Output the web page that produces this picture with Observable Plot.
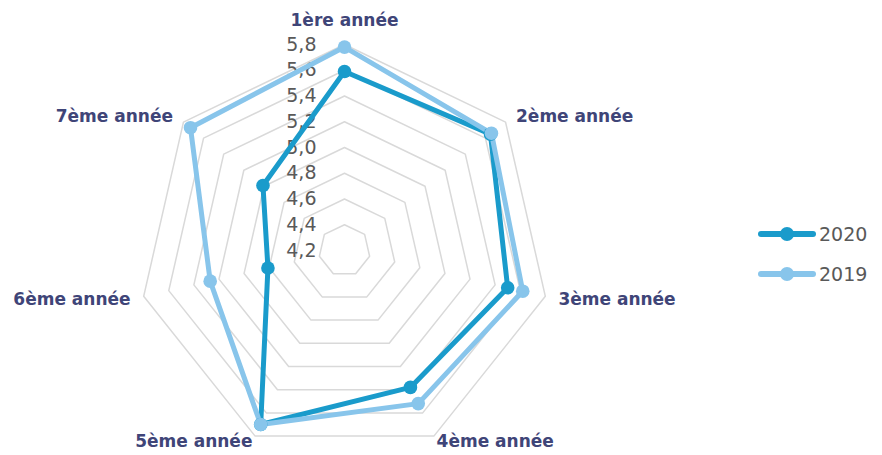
<!DOCTYPE html>
<html>
<head>
<meta charset="utf-8">
<script src="https://cdn.jsdelivr.net/npm/d3@7"></script>
<script src="https://cdn.jsdelivr.net/npm/@observablehq/plot@0.6"></script>
<style>
  html, body { margin: 0; padding: 0; background: #fff; }
  #wrap { position: relative; width: 882px; height: 455px; overflow: hidden; }
  #legend { position: absolute; left: 758px; top: 214px; font-family: "DejaVu Sans", sans-serif; font-size: 19px; color: #595959; }
  .item { display: flex; align-items: center; height: 40px; }
  .item svg { margin-right: 3px; }
</style>
</head>
<body>
<div id="wrap"><div id="chart"></div><div id="legend"></div></div>
<script>
const categories = ["1ère année", "2ème année", "3ème année", "4ème année", "5ème année", "6ème année", "7ème année"];
const values2020 = [5.59, 5.65, 5.50, 5.38, 5.70, 4.81, 5.01];
const values2019 = [5.78, 5.66, 5.62, 5.52, 5.70, 5.27, 5.73];
const seriesNames = ["2020", "2019"];
const tickValues = [4.2, 4.4, 4.6, 4.8, 5.0, 5.2, 5.4, 5.6, 5.8];
const axisMin = 4.2, axisMax = 5.8;

const colors = {"2020": "#1a9bcb", "2019": "#88c5eb"};
const n = categories.length;
const angle = i => (2 * Math.PI * i) / n;
const rad = v => (v - axisMin) / (axisMax - axisMin);
const px = (r, i) => r * Math.sin(angle(i));
const py = (r, i) => r * Math.cos(angle(i));

// grid rings
const rings = [];
tickValues.filter(t => t > axisMin).forEach(t => {
  categories.forEach((c, i) => rings.push({ring: t, x: px(rad(t), i), y: py(rad(t), i)}));
});

// series points
const seriesData = [];
[["2020", values2020], ["2019", values2019]].forEach(([s, vals]) => {
  vals.forEach((v, i) => seriesData.push({series: s, cat: categories[i], x: px(rad(v), i), y: py(rad(v), i)}));
});

// category labels
const labels = categories.map((c, i) => {
  const s = Math.sin(angle(i)), co = Math.cos(angle(i));
  let r = 1.065;
  if (i === 0) r = 1.115;
  if (co < -0.8) r = 1.03;
  return {
    text: c,
    x: px(r, i), y: py(r, i),
    anchor: Math.abs(s) < 0.01 ? "middle" : (s > 0 ? "start" : "end"),
    upper: co > 0.3 && Math.abs(s) > 0.01
  };
});

const tickData = tickValues.map(t => ({text: d3.format(".1f")(t).replace(".", ","), x: 0, y: rad(t)}));

const labelMark = (anchor, upper) => Plot.text(labels.filter(d => d.anchor === anchor && d.upper === upper), {
  x: "x", y: "y", text: "text", textAnchor: anchor, lineAnchor: "middle", dy: upper ? 3 : 0,
  fontWeight: "bold", fontSize: 17, fill: "#3f4578"
});

const chart = Plot.plot({
  width: 882,
  height: 455,
  margin: 0,
  style: {fontFamily: "'DejaVu Sans', sans-serif", background: "#fff"},
  x: {domain: [-1, 1], range: [138, 550], axis: null},
  y: {domain: [-1, 1], range: [456, 44], axis: null},
  marks: [
    Plot.line(rings, {x: "x", y: "y", z: "ring", curve: "linear-closed", stroke: "#d9d9d9", strokeWidth: 1.5}),
    Plot.text(tickData, {x: "x", y: "y", text: "text", dx: -28, textAnchor: "end", lineAnchor: "middle", fontSize: 19, fill: "#595959"}),
    ...seriesNames.map(s => Plot.line(seriesData.filter(d => d.series === s), {x: "x", y: "y", curve: "linear-closed", stroke: colors[s], strokeWidth: 5, strokeLinejoin: "round"})),
    ...seriesNames.map(s => Plot.dot(seriesData.filter(d => d.series === s), {x: "x", y: "y", r: 6.8, fill: colors[s], stroke: "none"})),
    labelMark("middle", false), labelMark("start", false), labelMark("end", false),
    labelMark("start", true), labelMark("end", true)
  ]
});
document.getElementById("chart").appendChild(chart);

const legend = document.getElementById("legend");
seriesNames.forEach(s => {
  const item = document.createElement("div");
  item.className = "item";
  item.innerHTML = `<svg width="58" height="20"><line x1="3" y1="10" x2="55" y2="10" stroke="${colors[s]}" stroke-width="6" stroke-linecap="round"/><circle cx="29" cy="10" r="7" fill="${colors[s]}"/></svg><span>${s}</span>`;
  legend.appendChild(item);
});
</script>
</body>
</html>
